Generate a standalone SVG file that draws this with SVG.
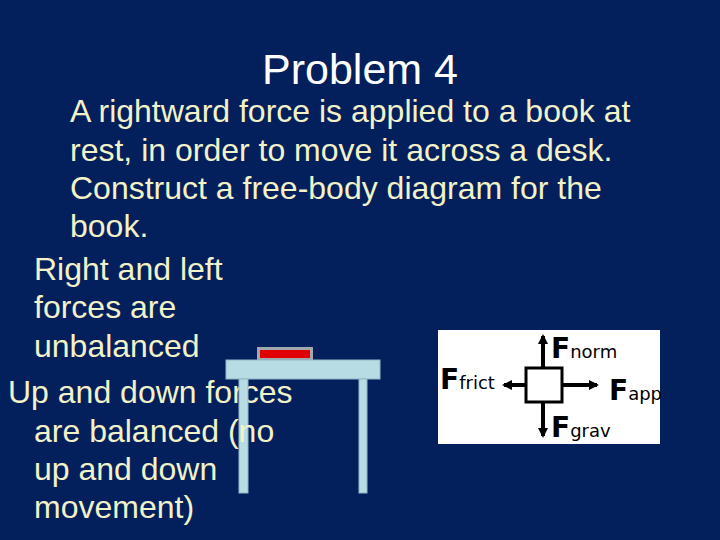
<svg xmlns="http://www.w3.org/2000/svg" width="720" height="540" viewBox="0 0 720 540">
<style>
.t{font-family:"Liberation Sans",Arial,sans-serif;font-size:32px;fill:#f2f2c8}
.f{font-family:"DejaVu Sans",sans-serif;fill:#000}
.ln{stroke:#000;stroke-width:4;fill:none}
</style>
<defs>
<marker id="h" viewBox="0 0 10 10" refX="8" refY="5" markerWidth="10" markerHeight="10" markerUnits="userSpaceOnUse" orient="auto"><path d="M0,0L10,5L0,10z" fill="#000"/></marker></defs>
<rect width="720" height="540" fill="#03205c"/>
<text x="360" y="84" text-anchor="middle" style="font-family:'Liberation Sans',Arial,sans-serif;font-size:43px;fill:#fff">Problem 4</text>
<g class="t">
<text x="70" y="122">A rightward force is applied to a book at</text>
<text x="70" y="161">rest, in order to move it across a desk.</text>
<text x="70" y="199">Construct a free-body diagram for the</text>
<text x="70" y="237">book.</text>
<text x="34" y="280">Right and left</text>
<text x="34" y="318">forces are</text>
<text x="34" y="357">unbalanced</text>
<text x="8" y="403">Up and down forces</text>
</g>
<g id="table">
<rect x="257" y="347" width="56" height="13" fill="#a0a8b0"/>
<rect x="260" y="350" width="50" height="8" fill="#e00000"/>
<rect x="226" y="360" width="154" height="19" fill="#b8dce4" stroke="#8fb8c4" stroke-width="1"/>
<rect x="239" y="379" width="9" height="114" fill="#b8dce4" stroke="#8fb8c4" stroke-width="1"/>
<rect x="359" y="379" width="8" height="114" fill="#b8dce4" stroke="#8fb8c4" stroke-width="1"/>
</g>
<g class="t">
<text x="34" y="442">are balanced (no</text>
<text x="34" y="480">up and down</text>
<text x="34" y="518">movement)</text>
</g>
<g id="fbd">
<rect x="438" y="330" width="222" height="114" fill="#fff"/>
<g id="connectors">
<line class="ln" x1="543" y1="368" x2="543" y2="336" marker-end="url(#h)"/>
<line class="ln" x1="543" y1="402" x2="543" y2="436" marker-end="url(#h)"/>
<line class="ln" x1="526" y1="385" x2="504" y2="385" marker-end="url(#h)"/>
<line class="ln" x1="562" y1="385" x2="597" y2="385" marker-end="url(#h)"/>
</g>
<rect id="box" x="526" y="368" width="36" height="34" fill="#fff" stroke="#000" stroke-width="3"/>
<text class="f" x="551" y="358" font-size="28" font-weight="bold">F<tspan font-size="18" font-weight="normal">norm</tspan></text>
<text class="f" x="440" y="389" font-size="28" font-weight="bold">F<tspan font-size="18" font-weight="normal">frict</tspan></text>
<text class="f" x="609" y="400" font-size="28" font-weight="bold">F<tspan font-size="18" font-weight="normal">app</tspan></text>
<text class="f" x="551" y="437" font-size="28" font-weight="bold">F<tspan font-size="18" font-weight="normal">grav</tspan></text>
</g>
</svg>
